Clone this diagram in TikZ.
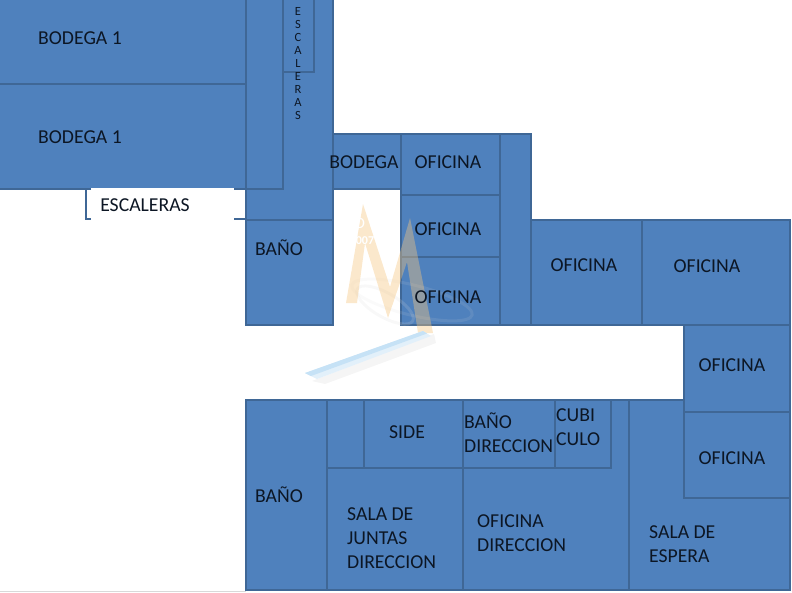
\documentclass[tikz,border=0pt]{standalone}
\usepackage{fontspec}
\setmainfont{Carlito}
\definecolor{roomfill}{HTML}{4F81BD}
\definecolor{roomline}{HTML}{3F6796}
\definecolor{inktext}{HTML}{0C1624}
\definecolor{markgold}{HTML}{F5C57F}
\definecolor{markbar}{HTML}{C6E2F6}
\definecolor{markbarlow}{HTML}{E2F0FA}
\tikzset{
  room/.style={draw=roomline,line width=1.9pt,fill=roomfill,line join=miter},
  wall/.style={draw=roomline,line width=1.9pt},
  lbl/.style={font=\fontsize{19.7}{24}\selectfont,text=inktext,inner sep=0pt,align=left},
  mini/.style={font=\fontsize{12.5}{14}\selectfont,text=inktext,inner sep=0pt},
}
\begin{document}
\begin{tikzpicture}[x=1pt,y=-1pt]
  \useasboundingbox (0,0) rectangle (792,592);
  \draw[gray!30,line width=1pt] (0,591) -- (246,591);
  % rooms, top left
  \draw[room] (-2,-2) rectangle (246,84);
  \draw[room] (-2,84) rectangle (246,189);
  \draw[room] (246,-2) rectangle (333,220);
  \draw[room] (246,-2) rectangle (283,189);
  \draw[room] (283,-2) rectangle (314,72);
  \draw[room] (246,220) rectangle (333,325);
  % stair opening
  \fill[white] (91,188) rectangle (234,225);
  \draw[wall] (91,189) -- (86,189) -- (86,219) -- (91,219);
  \draw[wall] (234,189) -- (246,189);
  \draw[wall] (234,219) -- (246,219);
  % rooms, middle
  \draw[room] (333,134) rectangle (401,189);
  \draw[room] (401,134) rectangle (500,195);
  \draw[room] (401,195) rectangle (500,257);
  \draw[room] (401,257) rectangle (500,325);
  \draw[room] (500,134) rectangle (531,325);
  \draw[room] (531,220) rectangle (642,325);
  \draw[room] (642,220) rectangle (790,325);
  % rooms, bottom
  \draw[room] (246,400) rectangle (327,590);
  \draw[room] (327,400) rectangle (629,590);
  \draw[room] (327,400) rectangle (364,468);
  \draw[room] (364,400) rectangle (463,468);
  \draw[room] (463,400) rectangle (555,468);
  \draw[room] (555,400) rectangle (611,468);
  \draw[room] (327,468) rectangle (463,590);
  \draw[room] (629,400) -- (684,400) -- (684,498) -- (790,498) -- (790,590) -- (629,590) -- cycle;
  \draw[room] (684,325) rectangle (790,412);
  \draw[room] (684,412) rectangle (790,498);
  % watermark
  \draw[gray!30,line width=3pt,opacity=.12,rotate around={-14:(412,300)}] (412,300) ellipse (62pt and 15pt);
  \draw[gray!30,line width=3pt,opacity=.18,rotate around={-30:(385,305)}] (385,305) ellipse (32pt and 12pt);
  \fill[markgold,opacity=.4] (346,303) -- (363,204) -- (390,287) -- (410,218) -- (433,333) -- (418,333) -- (407,262) -- (388,318) -- (365,243) -- (357,303) -- cycle;
  \fill[black!4] (312,381) -- (325,384) -- (436,343) -- (434,334) -- cycle;
  \fill[markbarlow] (305,373) -- (423,331) -- (431,336) -- (317,379) -- cycle;
  \fill[markbar] (305,373) -- (423,331) -- (427,333.5) -- (311,376) -- cycle;
  \node[font=\fontsize{16}{16}\selectfont,text=white,inner sep=0pt] (markd) at (360,223) {D};
  \node[font=\bfseries\fontsize{12}{12}\selectfont,text=white,inner sep=0pt] (markn) at (365,241) {007};
  % labels
  \node[lbl] (bod1) at (80,38) {BODEGA 1};
  \node[lbl] (bod2) at (80,137) {BODEGA 1};
  \node[lbl] (esc) at (145,205) {ESCALERAS};
  \node[lbl] (banoa) at (279,248) {BAÑO};
  \node[lbl] (bod3) at (364,162) {BODEGA};
  \node[lbl] (of1) at (448,162) {OFICINA};
  \node[lbl] (of2) at (448,229) {OFICINA};
  \node[lbl] (of3) at (448,297) {OFICINA};
  \node[lbl] (of4) at (584,265) {OFICINA};
  \node[lbl] (of5) at (707,266) {OFICINA};
  \node[lbl] (of6) at (732,365) {OFICINA};
  \node[lbl] (of7) at (732,458) {OFICINA};
  \node[lbl] (banob) at (279,495) {BAÑO};
  \node[lbl] (side) at (407,432) {SIDE};
  \node[lbl,anchor=west] (banoc) at (464,433) {BAÑO\\DIRECCION};
  \node[lbl,anchor=west] (cubi) at (556,427) {CUBI\\CULO};
  \node[lbl,anchor=west] (sala) at (347,538) {SALA DE\\JUNTAS\\DIRECCION};
  \node[lbl,anchor=west] (ofdir) at (477,533) {OFICINA\\DIRECCION};
  \node[lbl,anchor=west] (espera) at (649,544) {SALA DE\\ESPERA};
  \foreach \c [count=\i] in {E,S,C,A,L,E,R,A,S}
    \node[mini] (v\i) at (298,11+13*\i-13) {\c};
\end{tikzpicture}
\end{document}
